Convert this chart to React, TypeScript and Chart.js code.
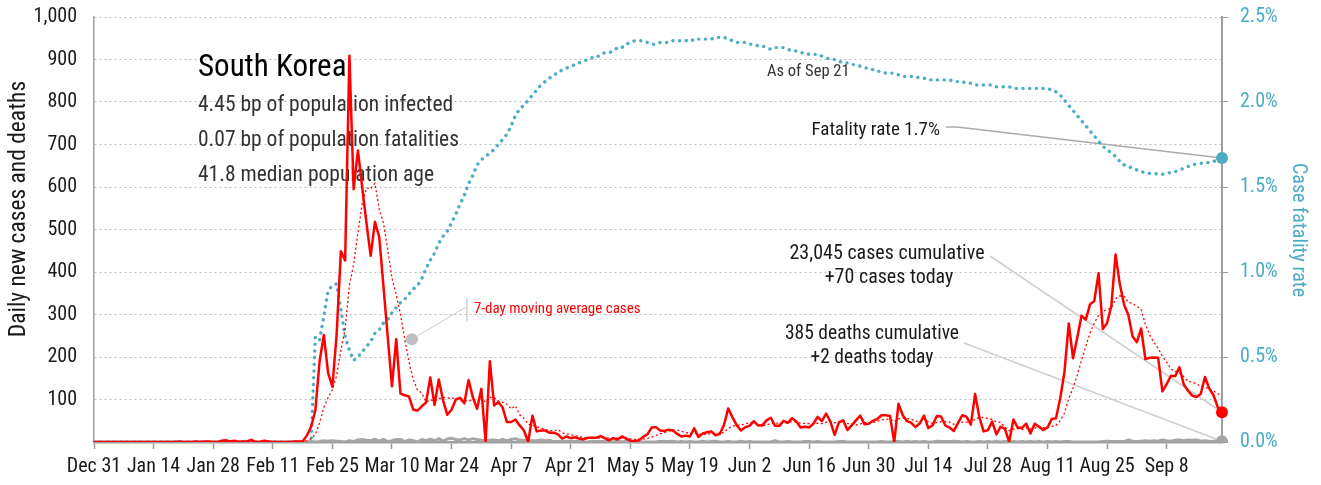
import React, { useEffect, useRef } from 'react';
import { Chart, registerables } from 'chart.js';

Chart.register(...registerables);

const FONT = "'Roboto Condensed', 'DejaVu Sans Condensed', sans-serif";
const TEAL = '#4bacc6';
const RED = '#ff0000';
const GREY = '#a6a6a6';
const INK = '#1a1a1a';

const MONTH_NAMES = ['Jan', 'Feb', 'Mar', 'Apr', 'May', 'Jun', 'Jul', 'Aug', 'Sep', 'Oct', 'Nov', 'Dec'];
const DAY_COUNT = 266; // Dec 31, 2019 .. Sep 21, 2020

const dateLabels: string[] = [];
for (let i = 0; i < DAY_COUNT; i++) {
  const d = new Date(2019, 11, 31 + i);
  dateLabels.push(`${MONTH_NAMES[d.getMonth()]} ${d.getDate()}`);
}

const tickLabels = ['Dec 31', 'Jan 14', 'Jan 28', 'Feb 11', 'Feb 25', 'Mar 10', 'Mar 24', 'Apr 7', 'Apr 21', 'May 5',
  'May 19', 'Jun 2', 'Jun 16', 'Jun 30', 'Jul 14', 'Jul 28', 'Aug 11', 'Aug 25', 'Sep 8'];

const dailyCases = [
  0, 0, 0, 0, 0, 0, 0, 0, 0, 0,
  0, 0, 0, 0, 0, 0, 0, 0, 0, 0,
  1, 0, 0, 0, 1, 0, 1, 1, 0, 0,
  3, 4, 1, 3, 0, 1, 2, 5, 0, 0,
  3, 1, 0, 0, 0, 0, 0, 1, 1, 1,
  15, 36, 74, 190, 252, 162, 130, 253, 449, 427,
  909, 595, 686, 600, 516, 438, 518, 483, 367, 248,
  131, 242, 114, 110, 107, 76, 74, 84, 93, 152,
  87, 147, 98, 64, 76, 100, 104, 91, 146, 105,
  78, 125, 0, 190, 86, 94, 81, 47, 47, 53,
  39, 27, 0, 62, 25, 27, 27, 22, 22, 18,
  8, 13, 9, 11, 8, 6, 10, 10, 10, 14,
  9, 4, 9, 6, 13, 8, 3, 2, 4, 12,
  18, 34, 35, 27, 26, 29, 27, 19, 13, 15,
  13, 32, 12, 20, 23, 25, 16, 19, 40, 79,
  58, 39, 27, 35, 38, 49, 39, 39, 51, 57,
  38, 38, 50, 45, 56, 48, 34, 36, 34, 43,
  59, 49, 67, 48, 17, 46, 51, 28, 39, 51,
  62, 42, 43, 50, 54, 63, 63, 61, 0, 90,
  63, 49, 45, 35, 44, 62, 33, 39, 61, 60,
  39, 34, 26, 45, 63, 59, 41, 113, 58, 25,
  28, 48, 18, 36, 31, 0, 53, 34, 33, 43,
  20, 43, 36, 28, 34, 54, 56, 103, 166, 279,
  197, 246, 297, 288, 324, 332, 397, 266, 280, 320,
  441, 371, 323, 299, 248, 235, 267, 195, 198, 199,
  198, 119, 136, 156, 155, 176, 136, 121, 109, 106,
  113, 153, 126, 110, 82, 70,
];

const movingAverage = [
  0, 0, 0, 0, 0, 0, 0, 0, 0, 0,
  0, 0, 0, 0, 0, 0, 0, 0, 0, 0,
  0.1, 0.1, 0.1, 0.1, 0.3, 0.3, 0.4, 0.4, 0.4, 0.4,
  0.9, 1.3, 1.4, 1.7, 1.6, 1.7, 2.0, 2.3, 1.7, 1.6,
  1.6, 1.7, 1.6, 1.3, 0.6, 0.6, 0.6, 0.3, 0.3, 0.4,
  2.6, 7.7, 18.3, 45.4, 81.3, 104.3, 122.7, 156.7, 215.7, 266.1,
  368.9, 417.9, 492.7, 559.9, 597.4, 595.9, 608.9, 548.0, 515.4, 452.9,
  385.9, 346.7, 300.4, 242.1, 188.4, 146.9, 122.0, 115.3, 94.0, 99.4,
  96.1, 101.9, 105.0, 103.6, 102.4, 103.4, 96.6, 97.1, 97.0, 98.0,
  100.0, 107.0, 92.7, 105.0, 104.3, 96.9, 93.4, 89.0, 77.9, 85.4,
  63.9, 55.4, 42.0, 39.3, 36.1, 33.3, 29.6, 27.1, 26.4, 29.0,
  21.3, 19.6, 17.0, 14.7, 12.7, 10.4, 9.3, 9.6, 9.1, 9.9,
  9.6, 9.0, 9.4, 8.9, 9.3, 9.0, 7.4, 6.4, 6.4, 6.9,
  8.6, 11.6, 15.4, 18.9, 22.3, 25.9, 28.0, 28.1, 25.1, 22.3,
  20.3, 21.1, 18.7, 17.7, 18.3, 20.0, 20.1, 21.0, 22.1, 31.7,
  37.1, 39.4, 39.7, 42.4, 45.1, 46.4, 40.7, 38.0, 39.7, 44.0,
  44.4, 44.4, 44.6, 45.4, 47.9, 47.4, 44.1, 43.9, 43.3, 42.3,
  44.3, 43.3, 46.0, 48.0, 45.3, 47.0, 48.1, 43.7, 42.3, 40.0,
  42.0, 45.6, 45.1, 45.0, 48.7, 52.1, 53.9, 53.7, 47.7, 54.4,
  56.3, 55.6, 53.0, 49.0, 46.6, 55.4, 47.3, 43.9, 45.6, 47.7,
  48.3, 46.9, 41.7, 43.4, 46.9, 46.6, 43.9, 54.4, 57.9, 57.7,
  55.3, 53.1, 47.3, 46.6, 34.9, 26.6, 30.6, 31.4, 29.3, 32.9,
  30.6, 32.3, 37.4, 33.9, 33.9, 36.9, 38.7, 50.6, 68.1, 102.9,
  127.0, 157.3, 192.0, 225.1, 256.7, 280.4, 297.3, 307.1, 312.0, 315.3,
  337.1, 343.9, 342.6, 328.6, 326.0, 319.6, 312.0, 276.9, 252.1, 234.4,
  220.0, 201.6, 187.4, 171.6, 165.9, 162.7, 153.7, 142.7, 141.3, 137.0,
  130.9, 130.6, 123.4, 119.7, 114.1, 108.6,
];

const dailyDeaths = [
  0, 0, 0, 0, 0, 0, 0, 0, 0, 0,
  0, 0, 0, 0, 0, 0, 0, 0, 0, 0,
  0, 0, 0, 0, 0, 0, 0, 0, 0, 0,
  0, 0, 0, 0, 0, 0, 0, 0, 0, 0,
  0, 0, 0, 0, 0, 0, 0, 0, 0, 0,
  0, 1, 0, 1, 3, 2, 3, 2, 1, 0,
  3, 1, 5, 6, 4, 3, 7, 2, 6, 1,
  3, 6, 6, 1, 5, 3, 0, 6, 3, 7,
  3, 8, 2, 7, 9, 6, 5, 8, 5, 8,
  6, 4, 3, 4, 5, 3, 6, 3, 6, 8,
  4, 4, 3, 3, 3, 5, 3, 4, 1, 2,
  2, 2, 1, 1, 2, 0, 0, 2, 1, 1,
  2, 1, 0, 3, 0, 2, 2, 1, 1, 0,
  0, 0, 0, 2, 1, 1, 2, 0, 1, 0,
  1, 0, 0, 2, 0, 1, 2, 0, 0, 1,
  0, 0, 2, 0, 1, 0, 0, 0, 0, 0,
  3, 0, 0, 1, 0, 0, 0, 1, 1, 0,
  1, 0, 0, 0, 0, 1, 1, 0, 0, 0,
  0, 0, 0, 0, 0, 1, 0, 0, 1, 1,
  0, 2, 0, 1, 0, 1, 0, 0, 2, 1,
  1, 1, 2, 1, 0, 1, 0, 0, 1, 0,
  1, 0, 1, 0, 1, 0, 1, 0, 1, 0,
  1, 0, 1, 0, 1, 0, 1, 0, 1, 1,
  0, 0, 0, 0, 0, 0, 0, 1, 2, 1,
  1, 1, 1, 5, 2, 1, 2, 3, 2, 3,
  2, 5, 3, 2, 4, 5, 3, 5, 4, 5,
  2, 3, 1, 2, 3, 2,
];

// case fatality rate, percent
const fatalityRate = [
  0, 0, 0, 0, 0, 0, 0, 0, 0, 0,
  0, 0, 0, 0, 0, 0, 0, 0, 0, 0,
  0, 0, 0, 0, 0, 0, 0, 0, 0, 0,
  0, 0, 0, 0, 0, 0, 0, 0, 0, 0,
  0, 0, 0, 0, 0, 0, 0, 0, 0, 0,
  0, 0, 0.62, 0.60, 0.74, 0.89, 0.92, 0.93, 0.78, 0.62,
  0.54, 0.48, 0.50, 0.53, 0.56, 0.59, 0.64, 0.66, 0.70, 0.72,
  0.76, 0.79, 0.82, 0.84, 0.87, 0.90, 0.92, 0.96, 1.02, 1.07,
  1.11, 1.17, 1.21, 1.24, 1.29, 1.34, 1.40, 1.45, 1.52, 1.57,
  1.63, 1.66, 1.68, 1.70, 1.72, 1.75, 1.78, 1.81, 1.86, 1.92,
  1.96, 1.98, 2.01, 2.04, 2.07, 2.10, 2.12, 2.14, 2.16, 2.17,
  2.19, 2.20, 2.21, 2.22, 2.23, 2.24, 2.25, 2.26, 2.26, 2.28,
  2.29, 2.29, 2.30, 2.32, 2.32, 2.34, 2.35, 2.36, 2.36, 2.36,
  2.35, 2.34, 2.34, 2.35, 2.35, 2.35, 2.36, 2.36, 2.36, 2.36,
  2.37, 2.36, 2.37, 2.37, 2.37, 2.37, 2.38, 2.38, 2.38, 2.37,
  2.36, 2.35, 2.35, 2.35, 2.34, 2.34, 2.33, 2.33, 2.32, 2.31,
  2.32, 2.32, 2.32, 2.31, 2.30, 2.30, 2.29, 2.29, 2.28, 2.28,
  2.28, 2.27, 2.26, 2.25, 2.25, 2.24, 2.23, 2.23, 2.22, 2.22,
  2.21, 2.20, 2.20, 2.19, 2.18, 2.18, 2.17, 2.17, 2.17, 2.16,
  2.15, 2.15, 2.15, 2.15, 2.14, 2.14, 2.13, 2.13, 2.13, 2.13,
  2.13, 2.13, 2.12, 2.12, 2.12, 2.11, 2.11, 2.10, 2.10, 2.10,
  2.10, 2.10, 2.09, 2.09, 2.09, 2.09, 2.08, 2.08, 2.08, 2.08,
  2.08, 2.08, 2.08, 2.08, 2.08, 2.07, 2.06, 2.04, 2.01, 1.98,
  1.95, 1.92, 1.89, 1.86, 1.83, 1.80, 1.77, 1.74, 1.72, 1.70,
  1.68, 1.65, 1.63, 1.62, 1.61, 1.60, 1.59, 1.585, 1.58, 1.58,
  1.575, 1.575, 1.58, 1.585, 1.59, 1.60, 1.61, 1.62, 1.63, 1.635,
  1.64, 1.64, 1.645, 1.65, 1.66, 1.67,
];

const TITLE = 'South Korea';
const STAT_LINES = ['4.45 bp of population infected', '0.07 bp of population fatalities', '41.8 median population age'];
const AS_OF = 'As of Sep 21';
const FATALITY_LABEL = 'Fatality rate 1.7%';
const CASES_LABEL = ['23,045 cases cumulative', '+70 cases today'];
const DEATHS_LABEL = ['385 deaths cumulative', '+2 deaths today'];
const MA_LABEL = '7-day moving average cases';
const LEFT_TITLE = 'Daily new cases and deaths';
const RIGHT_TITLE = 'Case fatality rate';

const LAST = DAY_COUNT - 1;
const endDot = (r: number) => (ctx: any) => (ctx.dataIndex === LAST ? r : 0);

function text(ctx: any, t: string, x: number, y: number, size: number, align: string) {
  ctx.font = `${size}px ${FONT}`;
  ctx.textAlign = align;
  ctx.fillText(t, x, y);
}

const annotationPlugin = {
  id: 'koreaAnnotations',
  beforeDatasetsDraw(chart: any) {
    const { ctx, chartArea: ca, scales } = chart;
    const xs = scales.x, ys = scales.y, yr = scales.y1;
    ctx.save();
    ctx.textBaseline = 'alphabetic';

    // country block
    ctx.fillStyle = '#000';
    text(ctx, TITLE, ca.left + 104, ca.top + 59, 31, 'left');
    ctx.fillStyle = '#333';
    STAT_LINES.forEach((t, i) => text(ctx, t, ca.left + 104, ca.top + 94 + i * 35, 21.5, 'left'));

    // As of
    ctx.fillStyle = '#333';
    text(ctx, AS_OF, 767, 76, 16.5, 'left');

    // leader lines
    const endX = xs.getPixelForValue(LAST);
    ctx.lineWidth = 1.5;
    ctx.strokeStyle = '#ababab';
    ctx.beginPath();
    ctx.moveTo(946, 127);
    ctx.lineTo(957, 127);
    ctx.lineTo(endX, yr.getPixelForValue(fatalityRate[LAST]));
    ctx.stroke();

    ctx.strokeStyle = '#cfcfcf';
    ctx.lineWidth = 1.6;
    ctx.beginPath();
    ctx.moveTo(990, 256);
    ctx.lineTo(endX, ys.getPixelForValue(dailyCases[LAST]));
    ctx.stroke();
    ctx.beginPath();
    ctx.moveTo(964, 343);
    ctx.lineTo(endX, ys.getPixelForValue(dailyDeaths[LAST]));
    ctx.stroke();

    // labels
    ctx.fillStyle = INK;
    text(ctx, FATALITY_LABEL, 940, 135, 19, 'right');
    text(ctx, CASES_LABEL[0], 887, 259, 20, 'center');
    text(ctx, CASES_LABEL[1], 889, 283, 20, 'center');
    text(ctx, DEATHS_LABEL[0], 872, 339, 19.5, 'center');
    text(ctx, DEATHS_LABEL[1], 872, 363, 19.5, 'center');

    // moving-average callout
    const dotX = xs.getPixelForValue(74.7);
    const dotY = ys.getPixelForValue(242);
    ctx.strokeStyle = '#cccccc';
    ctx.lineWidth = 1;
    ctx.beginPath();
    ctx.moveTo(dotX, dotY);
    ctx.lineTo(dotX + 54, dotY - 32);
    ctx.stroke();
    ctx.strokeStyle = '#bbbbbb';
    ctx.beginPath();
    ctx.moveTo(dotX + 55, dotY - 41);
    ctx.lineTo(dotX + 55, dotY - 18);
    ctx.stroke();
    ctx.fillStyle = '#bfbfbf';
    ctx.beginPath();
    ctx.arc(dotX, dotY, 6, 0, Math.PI * 2);
    ctx.fill();
    ctx.fillStyle = RED;
    text(ctx, MA_LABEL, dotX + 62, dotY - 26, 15, 'left');

    // axis titles
    ctx.textBaseline = 'middle';
    ctx.fillStyle = INK;
    ctx.save();
    ctx.translate(19, 209);
    ctx.rotate(-Math.PI / 2);
    text(ctx, LEFT_TITLE, 0, 0, 23.5, 'center');
    ctx.restore();
    ctx.fillStyle = TEAL;
    ctx.save();
    ctx.translate(1298, 230);
    ctx.rotate(Math.PI / 2);
    text(ctx, RIGHT_TITLE, 0, 0, 20, 'center');
    ctx.restore();

    ctx.restore();
  },
};

export default function App() {
  const canvasRef = useRef<HTMLCanvasElement | null>(null);

  useEffect(() => {
    const canvas = canvasRef.current;
    if (!canvas) return;
    const chart = new Chart(canvas, {
      type: 'line',
      data: {
        labels: dateLabels,
        datasets: [
          {
            label: 'Daily new cases', data: dailyCases, yAxisID: 'y', order: 0,
            borderColor: RED, borderWidth: 2.5, borderJoinStyle: 'round',
            pointRadius: endDot(6), pointBackgroundColor: RED, pointBorderWidth: 0, pointHoverRadius: 0,
          },
          {
            label: '7-day moving average cases', data: movingAverage, yAxisID: 'y', order: 1,
            borderColor: RED, borderWidth: 1.3, borderDash: [2, 2.5], pointRadius: 0,
          },
          {
            label: 'Daily deaths', data: dailyDeaths, yAxisID: 'y', order: 2,
            borderColor: GREY, borderWidth: 3, borderJoinStyle: 'round',
            pointRadius: endDot(6), pointBackgroundColor: GREY, pointBorderWidth: 0,
          },
          {
            label: 'Case fatality rate', data: fatalityRate, yAxisID: 'y1', order: 3,
            borderColor: TEAL, borderWidth: 3.4, borderDash: [0.1, 6.6], borderCapStyle: 'round',
            pointRadius: endDot(6), pointBackgroundColor: TEAL, pointBorderWidth: 0,
          },
        ],
      },
      options: {
        animation: false,
        responsive: false,
        layout: { padding: { top: 17, left: 0, right: 0, bottom: 0 } },
        plugins: { legend: { display: false }, tooltip: { enabled: false } },
        scales: {
          x: {
            type: 'category',
            grid: { drawOnChartArea: false, drawTicks: true, tickLength: 7, tickColor: '#9a9a9a', tickWidth: 1.5 },
            border: { color: '#a0a0a0', width: 2.5 },
            ticks: {
              autoSkip: false, maxRotation: 0, minRotation: 0, padding: 6,
              font: { family: FONT, size: 20 }, color: INK,
            },
            afterBuildTicks: (axis: any) => {
              axis.ticks = axis.ticks.filter((t: any) => tickLabels.includes(dateLabels[t.value]));
            },
            afterFit: (s: any) => { s.height = 43; s.paddingLeft = 0; s.paddingRight = 0; },
          },
          y: {
            position: 'left', min: 0, max: 1000,
            ticks: {
              stepSize: 100, padding: 17,
              callback: (v: any) => (v === 0 ? '' : Number(v).toLocaleString('en-US')),
              font: { family: FONT, size: 20 }, color: INK,
            },
            grid: { color: '#bdbdbd', lineWidth: 1, drawTicks: false },
            border: { color: '#a0a0a0', width: 1.5, dash: [2, 3] },
            afterFit: (s: any) => { s.width = 94; s.paddingTop = 0; s.paddingBottom = 0; },
          },
          y1: {
            position: 'right', min: 0, max: 2.5,
            ticks: {
              stepSize: 0.5, padding: 12,
              callback: (v: any) => `${Number(v).toFixed(1)}%`,
              font: { family: FONT, size: 20 }, color: TEAL,
            },
            grid: { drawOnChartArea: false, drawTicks: true, tickLength: 6, tickColor: '#9a9a9a' },
            border: { color: '#a0a0a0', width: 2 },
            afterFit: (s: any) => { s.width = 99; s.paddingTop = 0; s.paddingBottom = 0; },
          },
        },
      },
      plugins: [annotationPlugin],
    } as any);

    return () => chart.destroy();
  }, []);

  return (
    <div style={{ position: 'absolute', left: 0, top: 0, width: 1321, height: 485 }}>
      <canvas ref={canvasRef} width={1321} height={485} />
    </div>
  );
}
